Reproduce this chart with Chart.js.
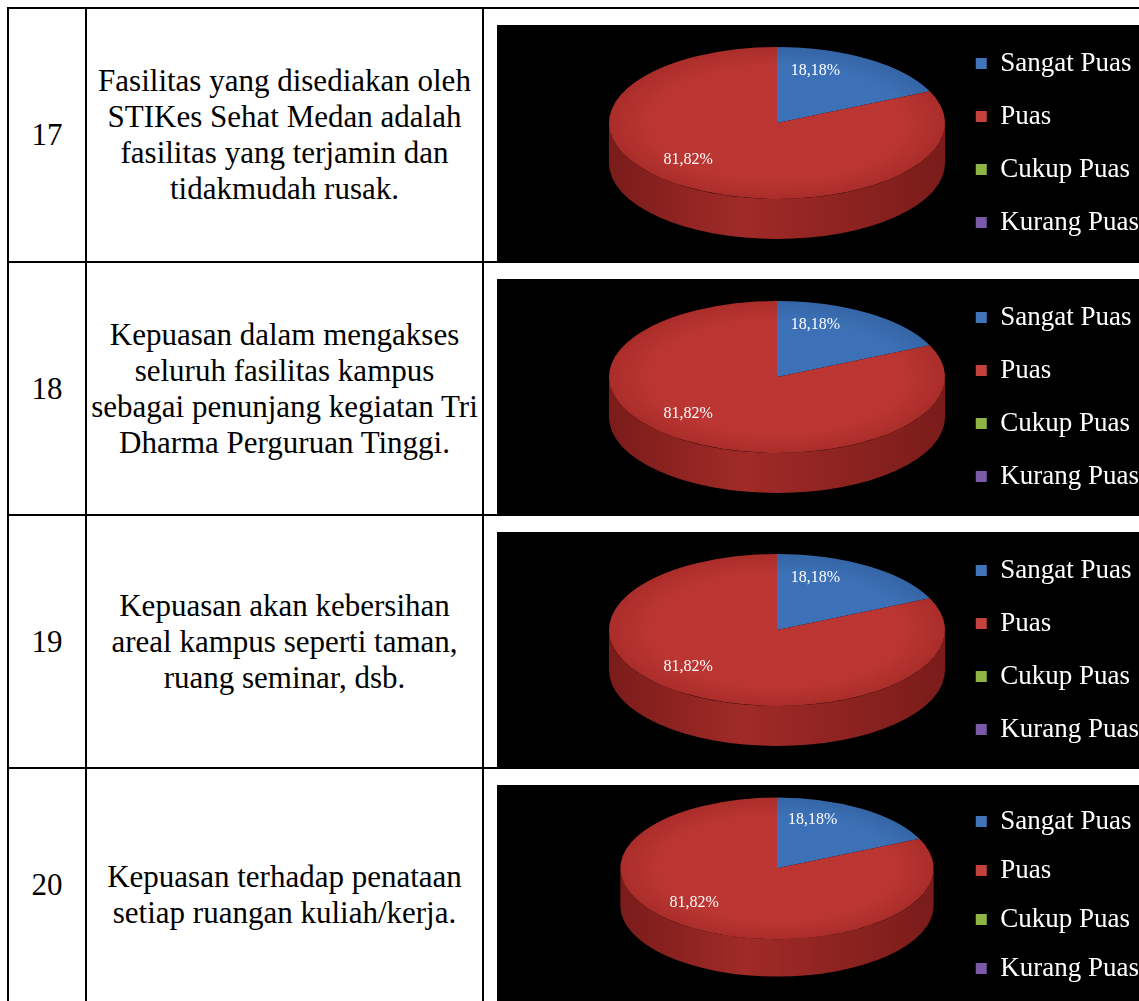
<!DOCTYPE html>
<html lang="id">
<head>
<meta charset="utf-8">
<title>Kepuasan Fasilitas Kampus</title>
<script src="https://cdn.jsdelivr.net/npm/chart.js@4.4.1/dist/chart.umd.min.js"></script>
<style>
  html, body { margin: 0; padding: 0; background: #fff; overflow: hidden; }
  body { width: 1139px; height: 1001px; position: relative; font-family: "Liberation Serif", "Times New Roman", serif; color: #000; }
  .garis { position: absolute; background: #000; }
  .sel { position: absolute; display: flex; flex-direction: column; justify-content: center; align-items: center; font-size: 31px; line-height: 36px; }
  .sel div { white-space: nowrap; }
  .kotak { position: absolute; left: 497px; width: 642px; background: #000; overflow: hidden; }
  .kotak canvas { display: block; position: absolute; left: 0; top: -7px; }
</style>
</head>
<body>
<script>
// kategori jawaban dan persentase tiap butir pertanyaan
const kategori = ['Sangat Puas', 'Puas', 'Cukup Puas', 'Kurang Puas'];
const nomor = [17, 18, 19, 20];
const pertanyaan = [
  ['Fasilitas yang disediakan oleh', 'STIKes Sehat Medan adalah', 'fasilitas yang terjamin dan', 'tidakmudah rusak.'],
  ['Kepuasan dalam mengakses', 'seluruh fasilitas kampus', 'sebagai penunjang kegiatan Tri', 'Dharma Perguruan Tinggi.'],
  ['Kepuasan akan kebersihan', 'areal kampus seperti taman,', 'ruang seminar, dsb.'],
  ['Kepuasan terhadap penataan', 'setiap ruangan kuliah/kerja.']
];
const nilai17 = [18.18, 81.82, 0, 0];
const nilai18 = [18.18, 81.82, 0, 0];
const nilai19 = [18.18, 81.82, 0, 0];
const nilai20 = [18.18, 81.82, 0, 0];
const semuaNilai = [nilai17, nilai18, nilai19, nilai20];

// warna: legenda, permukaan atas (tengah/tepi), dan sisi pie
const warnaLegenda = ['#3f74ba', '#c4423d', '#8fb443', '#7a5aa6'];
const warnaTengah = ['#3d71b7', '#bb3632', '#9bbb59', '#8064a2'];
const warnaTepi = ['#3465a6', '#aa2d2a', '#7b9a40', '#654f85'];
const warnaSisi = ['#26497a', '#7a1c1a', '#5d7530', '#4b3b64'];
const warnaSisiTengah = ['#30599a', '#a02a27', '#7b9a40', '#654f85'];

// garis tabel
const barisY = [7, 261, 514, 767];
const bawah = 1021;
const kolomX = [7, 85, 482];
const tinggiGrafik = [236, 236, 236, 220];

function garis(x, y, w, h) {
  const d = document.createElement('div');
  d.className = 'garis';
  Object.assign(d.style, { left: x + 'px', top: y + 'px', width: w + 'px', height: h + 'px' });
  document.body.appendChild(d);
}
barisY.forEach(y => garis(7, y, 1150, 2));
kolomX.forEach(x => garis(x, 7, 2, bawah - 7));

function sel(x, y, w, h, baris) {
  const d = document.createElement('div');
  d.className = 'sel';
  Object.assign(d.style, { left: x + 'px', top: y + 'px', width: w + 'px', height: h + 'px' });
  baris.forEach(t => {
    const b = document.createElement('div');
    b.textContent = t;
    d.appendChild(b);
  });
  document.body.appendChild(d);
}

function teksPersen(v) {
  return v.toFixed(2).replace('.', ',') + '%';
}

// pie dibuat seolah 3D: sisi depan digambar dulu, lalu irisan atas dipipihkan jadi elips
const pie3D = {
  id: 'pie3D',
  beforeDatasetsDraw(chart, args, g) {
    const ctx = chart.ctx;
    const meta = chart.getDatasetMeta(0);
    const area = chart.chartArea;
    const r = Math.min(area.right - area.left, area.bottom - area.top) / 2;
    const x0 = (area.left + area.right) / 2;
    const y0 = (area.top + area.bottom) / 2;
    const cx = area.left + g.a;
    const cy = y0 - g.depth / 2 - g.naik;
    chart.$pusat = { cx, cy };

    ctx.save();
    meta.data.forEach((el, i) => {
      const s = el.startAngle, e = el.endAngle;
      if (e - s <= 0) return;
      for (let k = -1; k <= 1; k++) {
        const lo = Math.max(s, k * 2 * Math.PI);
        const hi = Math.min(e, k * 2 * Math.PI + Math.PI);
        if (hi <= lo) continue;
        const sg = ctx.createLinearGradient(cx - g.a, 0, cx + g.a, 0);
        sg.addColorStop(0, warnaSisi[i]);
        sg.addColorStop(0.4, warnaSisiTengah[i]);
        sg.addColorStop(1, warnaSisi[i]);
        ctx.beginPath();
        ctx.ellipse(cx, cy, g.a, g.b, 0, lo, hi, false);
        ctx.ellipse(cx, cy + g.depth, g.a, g.b, 0, hi, lo, true);
        ctx.closePath();
        ctx.fillStyle = sg;
        ctx.fill();
      }
    });
    ctx.restore();

    ctx.save();
    ctx.translate(cx, cy);
    ctx.scale(g.a / r, g.b / r);
    ctx.translate(-x0, -y0);
  },
  afterDatasetsDraw(chart, args, g) {
    const ctx = chart.ctx;
    ctx.restore();
    const { cx, cy } = chart.$pusat;
    const meta = chart.getDatasetMeta(0);
    const data = chart.data.datasets[0].data;
    ctx.save();
    ctx.fillStyle = '#fff';
    ctx.font = '16px "Liberation Serif", "Times New Roman", serif';
    ctx.textAlign = 'center';
    ctx.textBaseline = 'middle';
    // label diletakkan pada sudut tengah irisan, agak ke kiri-atas seperti tampilan perspektif
    const lx = cx - 0.15 * g.a;
    const ly = cy - 0.1 * g.b;
    meta.data.forEach((el, i) => {
      if (!data[i]) return;
      const mid = (el.startAngle + el.endAngle) / 2;
      ctx.fillText(teksPersen(data[i]), lx + 0.7 * g.a * Math.cos(mid), ly + 0.7 * g.b * Math.sin(mid));
    });
    ctx.restore();
  }
};

// permukaan atas: sedikit lebih terang di tengah, gelap di tepi
function isiIrisan(c) {
  const i = c.dataIndex;
  const area = c.chart.chartArea;
  if (!area || i === undefined) return warnaTengah[i || 0];
  const x = (area.left + area.right) / 2;
  const y = (area.top + area.bottom) / 2;
  const r = Math.min(area.right - area.left, area.bottom - area.top) / 2;
  const gr = c.chart.ctx.createRadialGradient(x, y, 0, x, y, r);
  gr.addColorStop(0, warnaTengah[i]);
  gr.addColorStop(0.75, warnaTengah[i]);
  gr.addColorStop(1, warnaTepi[i]);
  return gr;
}

nomor.forEach((no, idx) => {
  const atas = barisY[idx] + 2;
  const batas = idx + 1 < barisY.length ? barisY[idx + 1] : bawah;
  sel(9, atas, 76, Math.min(batas, 1001) - atas, [String(no)]);
  sel(87, atas, 395, batas - atas, pertanyaan[idx]);

  const h = tinggiGrafik[idx];
  const kotak = document.createElement('div');
  kotak.className = 'kotak';
  kotak.style.top = (atas + 16) + 'px';
  kotak.style.height = h + 'px';
  const canvas = document.createElement('canvas');
  canvas.width = 652;
  canvas.height = h + 14;
  kotak.appendChild(canvas);
  document.body.appendChild(kotak);

  const geo = { a: 0.712 * h, b: 0.322 * h, depth: 0.17 * h, naik: h < 236 ? 8 : 0 };
  new Chart(canvas.getContext('2d'), {
    type: 'pie',
    data: {
      labels: kategori,
      datasets: [{
        data: semuaNilai[idx],
        backgroundColor: isiIrisan,
        borderWidth: 0
      }]
    },
    options: {
      responsive: false,
      animation: false,
      layout: { padding: { left: 280 - geo.a, right: 0, top: 0, bottom: 0 } },
      plugins: {
        pie3D: geo,
        tooltip: { enabled: false },
        legend: {
          position: 'right',
          labels: {
            color: '#fff',
            font: { family: '"Liberation Serif", "Times New Roman", serif', size: 27 },
            boxWidth: 11,
            boxHeight: 11,
            padding: Math.round(0.2246 * h) - 27,
            generateLabels: () => kategori.map((k, i) => ({
              text: k,
              fillStyle: warnaLegenda[i],
              strokeStyle: warnaLegenda[i],
              lineWidth: 0,
              fontColor: '#fff',
              hidden: false,
              index: i
            }))
          }
        }
      }
    },
    plugins: [pie3D]
  });
});
</script>
</body>
</html>
